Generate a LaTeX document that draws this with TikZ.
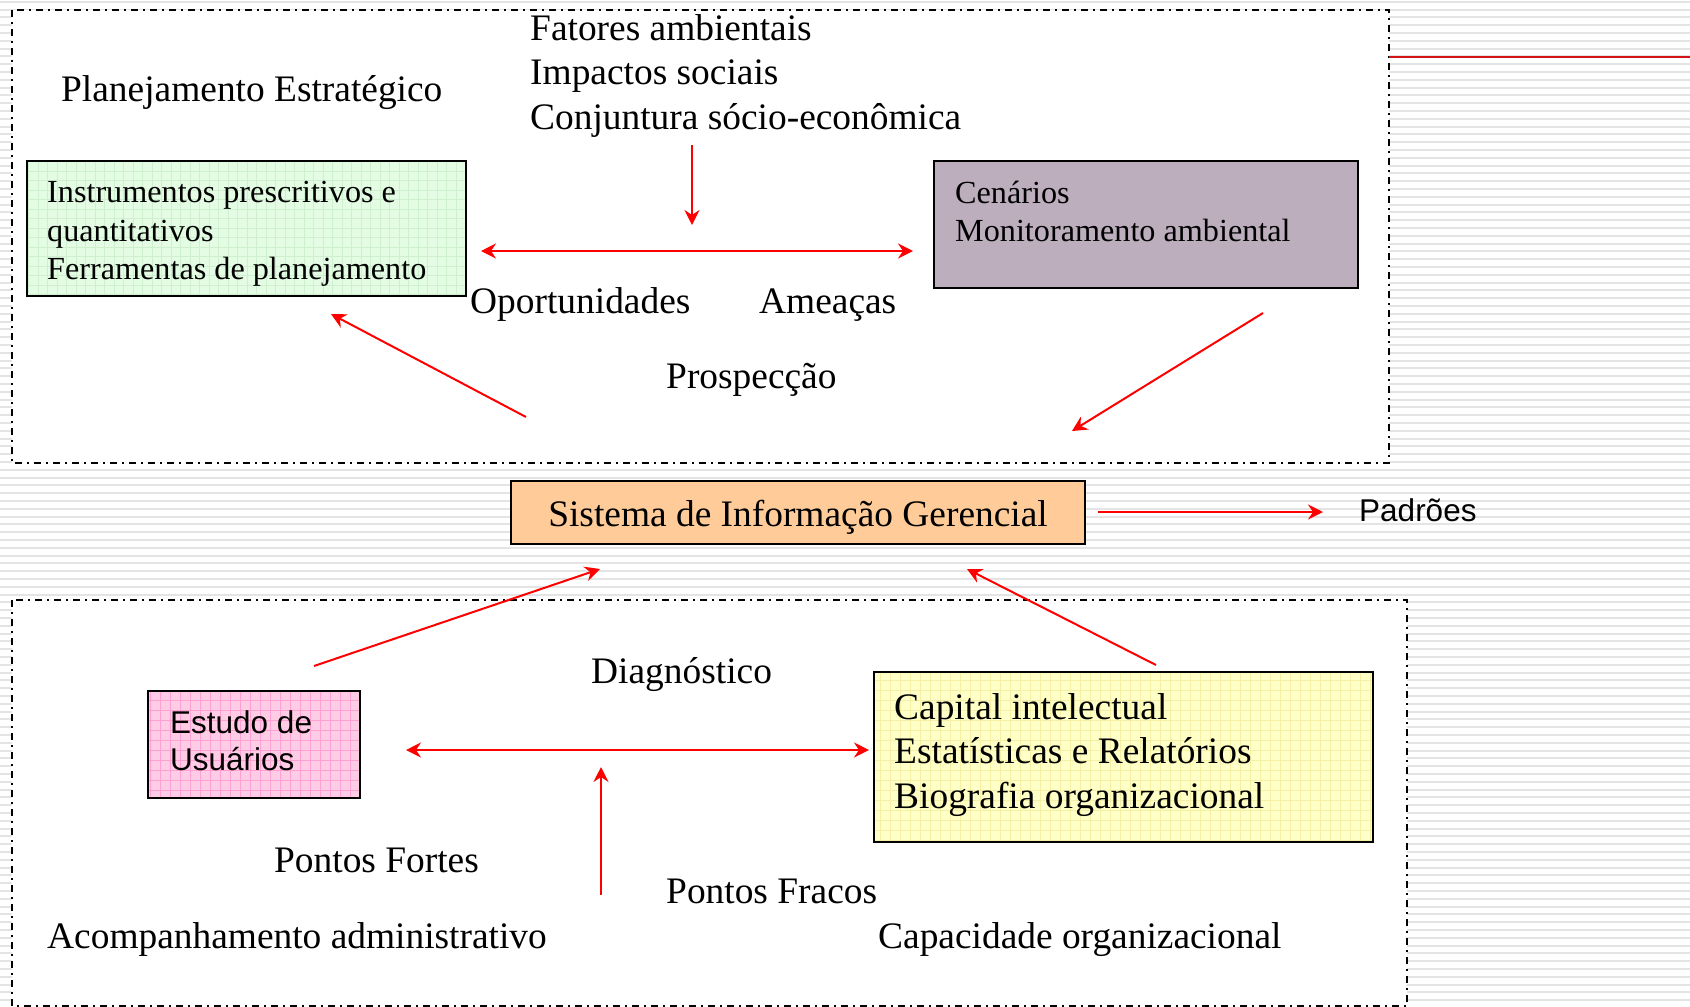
\documentclass[tikz,border=0pt]{standalone}
\usepackage{fontspec}
\setmainfont{Liberation Serif}
\newfontfamily\arialfont{Liberation Sans}
\usetikzlibrary{arrows.meta}
\definecolor{stripegray}{RGB}{228,228,228}
\definecolor{greenfill}{RGB}{228,252,228}
\definecolor{greengrid}{RGB}{206,240,206}
\definecolor{purplefill}{RGB}{188,174,189}
\definecolor{orangefill}{RGB}{255,204,153}
\definecolor{pinkfill}{RGB}{255,204,230}
\definecolor{pinkgrid}{RGB}{255,160,210}
\definecolor{yellowfill}{RGB}{255,255,200}
\definecolor{yellowgrid}{RGB}{245,240,165}
\definecolor{arrowred}{RGB}{255,0,0}
\definecolor{linered}{RGB}{210,20,20}
\begin{document}
\begin{tikzpicture}[x=1pt,y=-1pt,
  bigtxt/.style={anchor=base west, inner sep=0pt, font=\fontsize{37.4}{45}\selectfont},
  boxtxt/.style={anchor=base west, inner sep=0pt, font=\fontsize{32.2}{38}\selectfont},
  sanstxt/.style={anchor=base west, inner sep=0pt, font=\arialfont\fontsize{31.5}{37}\selectfont},
  boxshape/.style={anchor=north west, inner sep=0pt, draw=none},
  boxborder/.style={draw=black, line width=2pt},
  redarrow/.style={draw=arrowred, line width=2pt, -{Stealth[length=15pt,width=15pt,inset=5pt]}},
  dblarrow/.style={draw=arrowred, line width=2pt, {Stealth[length=15pt,width=15pt,inset=5pt]}-{Stealth[length=15pt,width=15pt,inset=5pt]}},
  dashbox/.style={draw=black, line width=1.5pt, dash pattern=on 7pt off 5pt on 2pt off 5pt, fill=white},
  stripe/.style={draw=stripegray, line width=2pt}]
\useasboundingbox (0,0) rectangle (1690,1007);
% background
\fill[white] (0,0) rectangle (1690,1007);
\foreach \i in {0,...,129} {
  \draw[stripe] (0,{1.7+7.8*\i}) -- (1690,{1.7+7.8*\i});
}
% dashed regions
\draw[dashbox] (12,10) rectangle (1389,463);
\draw[dashbox] (12,600) rectangle (1407,1006);
% red line top right
\coordinate (rl1) at (1389,57);
\coordinate (rl2) at (1690,57);
\draw[linered, line width=2pt] (rl1) -- (rl2);

% green box
\node[boxshape, fill=greenfill, minimum width=439pt, minimum height=135pt] (green) at (27,161) {};
\begin{scope}
  \clip (green.south west) rectangle (green.north east);
  \draw[greengrid, line width=0.8pt, step=9.5pt] (green.south west) grid (green.north east);
\end{scope}
\draw[boxborder] (green.south west) rectangle (green.north east);
\node[boxtxt] (g1) at (47,202) {Instrumentos prescritivos e};
\node[boxtxt] (g2) at (47,241) {quantitativos};
\node[boxtxt] (g3) at (47,279) {Ferramentas de planejamento};

% purple box
\node[boxshape, fill=purplefill, minimum width=424pt, minimum height=127pt] (purple) at (934,161) {};
\draw[boxborder] (purple.south west) rectangle (purple.north east);
\node[boxtxt] (p1) at (955,203) {Cenários};
\node[boxtxt] (p2) at (955,241) {Monitoramento ambiental};

% orange box
\node[boxshape, fill=orangefill, minimum width=574pt, minimum height=63pt] (sig) at (511,481) {};
\draw[boxborder] (sig.south west) rectangle (sig.north east);
\node[anchor=base, inner sep=0pt, font=\fontsize{37.4}{45}\selectfont] (sigt) at (798,526) {Sistema de Informação Gerencial};

% pink box
\node[boxshape, fill=pinkfill, minimum width=212pt, minimum height=107pt] (pink) at (148,691) {};
\begin{scope}
  \clip (pink.south west) rectangle (pink.north east);
  \draw[pinkgrid, line width=0.8pt, step=10pt] (pink.south west) grid (pink.north east);
\end{scope}
\draw[boxborder] (pink.south west) rectangle (pink.north east);
\node[sanstxt] (u1) at (170,733) {Estudo de};
\node[sanstxt] (u2) at (170,770) {Usuários};

% yellow box
\node[boxshape, fill=yellowfill, minimum width=499pt, minimum height=170pt] (yellow) at (874,672) {};
\begin{scope}
  \clip (yellow.south west) rectangle (yellow.north east);
  \draw[yellowgrid, line width=0.8pt, step=10pt] (yellow.south west) grid (yellow.north east);
\end{scope}
\draw[boxborder] (yellow.south west) rectangle (yellow.north east);
\node[bigtxt] (y1) at (894,719) {Capital intelectual};
\node[bigtxt] (y2) at (894,763) {Estatísticas e Relatórios};
\node[bigtxt] (y3) at (894,808) {Biografia organizacional};

% free texts
\node[bigtxt] (fat) at (530,40) {Fatores ambientais};
\node[bigtxt] (imp) at (530,84) {Impactos sociais};
\node[bigtxt] (con) at (530,129) {Conjuntura sócio-econômica};
\node[bigtxt] (plan) at (61,101) {Planejamento Estratégico};
\node[bigtxt] (opo) at (470,313) {Oportunidades};
\node[bigtxt] (ame) at (759,313) {Ameaças};
\node[bigtxt] (pro) at (666,388) {Prospecção};
\node[sanstxt] (pad) at (1359,521) {Padrões};
\node[bigtxt] (dia) at (591,683) {Diagnóstico};
\node[bigtxt] (pfo) at (274,872) {Pontos Fortes};
\node[bigtxt] (pfr) at (666,903) {Pontos Fracos};
\node[bigtxt] (aco) at (47,948) {Acompanhamento administrativo};
\node[bigtxt] (cap) at (878,948) {Capacidade organizacional};

% arrow endpoints
\coordinate (a1s) at (692,145);
\coordinate (a1e) at (692,225);
\coordinate (a2l) at (481,251);
\coordinate (a2r) at (913,251);
\coordinate (a3s) at (526,417);
\coordinate (a3e) at (331,314);
\coordinate (a4s) at (1263,313);
\coordinate (a4e) at (1072,431);
\coordinate (a5s) at (1098,512);
\coordinate (a5e) at (1323,512);
\coordinate (a6s) at (314,666);
\coordinate (a6e) at (600,569);
\coordinate (a7s) at (1156,665);
\coordinate (a7e) at (967,569);
\coordinate (a8l) at (406,750);
\coordinate (a8r) at (869,750);
\coordinate (a9s) at (601,895);
\coordinate (a9e) at (601,767);

\draw[redarrow] (a1s) -- (a1e);
\draw[dblarrow] (a2l) -- (a2r);
\draw[redarrow] (a3s) -- (a3e);
\draw[redarrow] (a4s) -- (a4e);
\draw[redarrow] (a5s) -- (a5e);
\draw[redarrow] (a6s) -- (a6e);
\draw[redarrow] (a7s) -- (a7e);
\draw[dblarrow] (a8l) -- (a8r);
\draw[redarrow] (a9s) -- (a9e);
\end{tikzpicture}
\end{document}
